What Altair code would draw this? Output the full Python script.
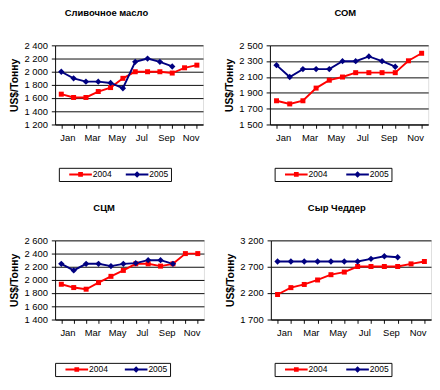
import altair as alt
import pandas as pd

months = ["Jan", "Feb", "Mar", "Apr", "May", "Jun", "Jul", "Aug", "Sep", "Oct", "Nov", "Dec"]
series = ["2004", "2005"]

titles = ["Сливочное масло", "СОМ", "СЦМ", "Сыр Чеддер"]
y_title = "US$/Тонну"

butter_2004 = [1660, 1610, 1610, 1700, 1760, 1900, 2000, 2000, 2000, 1980, 2060, 2100]
butter_2005 = [2000, 1900, 1850, 1850, 1830, 1750, 2150, 2200, 2150, 2080]
som_2004 = [1800, 1760, 1800, 1960, 2060, 2100, 2155, 2155, 2155, 2155, 2305, 2400]
som_2005 = [2250, 2100, 2200, 2200, 2200, 2300, 2300, 2360, 2300, 2230]
scm_2004 = [1935, 1885, 1860, 1960, 2055, 2145, 2245, 2245, 2210, 2245, 2400, 2400]
scm_2005 = [2245, 2145, 2245, 2245, 2210, 2245, 2255, 2300, 2300, 2245]
ched_2004 = [2175, 2305, 2365, 2450, 2550, 2600, 2705, 2705, 2705, 2705, 2755, 2800]
ched_2005 = [2800, 2800, 2800, 2800, 2800, 2800, 2800, 2850, 2900, 2880]

y_ticks = [
    [1200, 1400, 1600, 1800, 2000, 2200, 2400],
    [1500, 1700, 1900, 2100, 2300, 2500],
    [1400, 1600, 1800, 2000, 2200, 2400, 2600],
    [1700, 2200, 2700, 3200],
]

data_sets = [
    (butter_2004, butter_2005),
    (som_2004, som_2005),
    (scm_2004, scm_2005),
    (ched_2004, ched_2005),
]

RED = "#ff0000"
NAVY = "#000080"
FONT = "Liberation Sans"

# legend symbols: a line with a marker (unit = 5px at symbolSize 100)
sq_path = "M-2.4,-0.2H2.4V0.2H-2.4Z M-0.5,-0.5H0.5V0.5H-0.5Z"
dm_path = "M-2.4,-0.2H2.4V0.2H-2.4Z M0,-0.7L0.7,0L0,0.7L-0.7,0Z"

widths = [157, 168, 158, 170]
dxs = [-24, -4, -27, -15]
legend_x = [4, 5, 0, 4]
legend_gap = [5, 10, 8, 10]


def panel(i):
    d04, d05 = data_sets[i]
    rows = []
    for m, v in zip(months, d04):
        rows.append({"month": m, "value": v, "series": "2004"})
    for m, v in zip(months, d05):
        rows.append({"month": m, "value": v, "series": "2005"})
    df = pd.DataFrame(rows)
    ticks = y_ticks[i]
    w = widths[i]
    bw = w / 12

    x_enc = alt.X(
        "month:N",
        sort=months,
        scale=alt.Scale(domain=months, paddingInner=0, paddingOuter=0),
        axis=alt.Axis(
            title=None,
            bandPosition=0,
            labelOffset=bw / 2,
            labelAngle=0,
            labelExpr="indexof(['Jan','Mar','May','Jul','Sep','Nov'], datum.value) >= 0 ? datum.value : ''",
            labelFont=FONT,
            labelFontSize=10,
            labelColor="black",
            labelPadding=5,
            tickColor="black",
            tickSize=4,
            domainColor="black",
            grid=False,
        ),
    )
    y_enc = alt.Y(
        "value:Q",
        scale=alt.Scale(domain=[ticks[0], ticks[-1]], nice=False, zero=False),
        axis=alt.Axis(
            title=y_title,
            titleFont=FONT,
            titleFontSize=11,
            titleFontWeight="bold",
            titleColor="black",
            titlePadding=5,
            values=ticks,
            labelExpr="replace(format(datum.value, ','), ',', ' ')",
            labelFont=FONT,
            labelFontSize=10,
            labelColor="black",
            labelPadding=4,
            tickColor="black",
            tickSize=4,
            domainColor="black",
            grid=True,
            gridColor="black",
            gridWidth=1,
        ),
    )

    base = alt.Chart(df)
    s04 = base.transform_filter(alt.datum.series == "2004")
    s05 = base.transform_filter(alt.datum.series == "2005")

    line04 = s04.mark_line(color=RED, strokeWidth=2).encode(x=x_enc, y=y_enc)
    pts04 = s04.mark_point(shape="square", filled=True, color=RED, size=28, opacity=1).encode(x=x_enc, y=y_enc)
    line05 = s05.mark_line(color=NAVY, strokeWidth=2).encode(x=x_enc, y=y_enc)
    pts05 = s05.mark_point(shape="diamond", filled=True, color=NAVY, size=45, opacity=1).encode(x=x_enc, y=y_enc)

    leg = dict(
        title=None,
        orient="none",
        legendX=legend_x[i],
        legendY=130,
        direction="horizontal",
        symbolSize=100,
        symbolOpacity=1,
        symbolStrokeWidth=0,
        symbolOffset=16,
        labelFont=FONT,
        labelFontSize=9,
        labelColor="black",
        labelOffset=8,
        labelExpr="datum.label + '  '",
        columnPadding=legend_gap[i],
        strokeColor="black",
        padding=2,
    )

    legend_layer = base.mark_point(filled=True, opacity=0).encode(
        x=x_enc,
        y=y_enc,
        color=alt.Color("series:N", scale=alt.Scale(domain=series, range=[RED, NAVY]),
                        legend=alt.Legend(**leg)),
        shape=alt.Shape("series:N", scale=alt.Scale(domain=series, range=[sq_path, dm_path]),
                        legend=alt.Legend(**leg)),
    )

    return alt.layer(line04, line05, pts04, pts05, legend_layer).properties(
        width=w,
        height=84,
        title=alt.TitleParams(
            titles[i],
            font=FONT,
            fontSize=10,
            fontWeight="bold",
            color="black",
            dx=dxs[i],
            offset=24,
        ),
    )


top = alt.hconcat(panel(0), panel(1), spacing=20).resolve_scale(color="independent", shape="independent", y="independent", x="independent")
bottom = alt.hconcat(panel(2), panel(3), spacing=20).resolve_scale(color="independent", shape="independent", y="independent", x="independent")

chart = alt.vconcat(top, bottom, spacing=22).resolve_scale(
    color="independent", shape="independent", y="independent", x="independent"
).properties(padding={"top": -12, "left": 0, "right": 0, "bottom": 0}).configure_view(stroke="black", strokeWidth=1).configure(
    background="white"
)

chart.save("out.html", embed_options={"renderer": "svg", "actions": False})
